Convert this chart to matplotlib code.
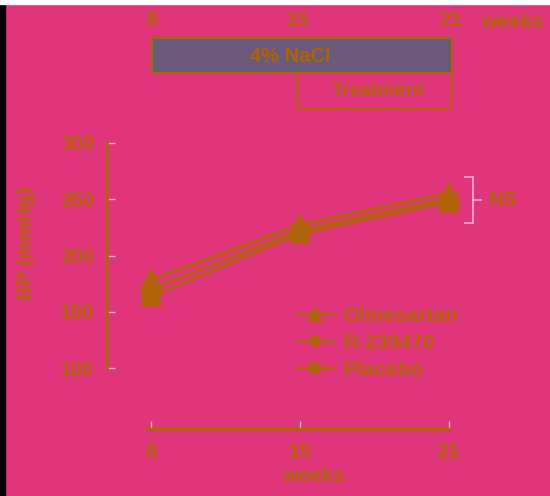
import matplotlib
matplotlib.use("Agg")
import matplotlib.pyplot as plt
from matplotlib.patches import Rectangle

# ---- data ----
weeks = ["8", "15", "21"]
olmesartan = [178, 227, 255]
r239470 = [170, 222, 250]
placebo = [163, 219, 247]
yticks = [100, 150, 200, 250, 300]

BG = "#E0357A"
FG = "#B06208"
BOX = "#685A78"
PALE = "#F2B0CC"

W, H = 550, 496
plt.rcParams['font.family'] = ['Liberation Sans', 'DejaVu Sans']
fig = plt.figure(figsize=(W / 100, H / 100), dpi=100, facecolor=BG)

# overlay axes in pixel coordinates
ov = fig.add_axes([0, 0, 1, 1], zorder=0)
ov.set_xlim(0, W)
ov.set_ylim(H, 0)
ov.axis("off")
ov.add_patch(Rectangle((0, 0), 5, H, color="black", zorder=0))
ov.add_patch(Rectangle((0, 0), W, 4, color="white", zorder=0))

# top timeline
for lbl, x in zip(weeks, [152, 298, 451]):
    ov.text(x, 21, lbl, ha="center", va="center", color=FG, fontsize=15, fontweight="bold")
ov.text(513, 22, "weeks", ha="center", va="center", color=FG, fontsize=15, fontweight="bold")
ov.add_patch(Rectangle((152, 38), 300, 35, facecolor=BOX, edgecolor=FG, lw=1.5, zorder=1))
ov.text(290, 57, "4% NaCl", ha="center", va="center", color=FG, fontsize=14.5, fontweight="bold", zorder=2)
ov.plot([298, 298, 452, 452], [73, 109, 109, 73], color=FG, lw=1.5)
ov.text(378, 91, "Treatment", ha="center", va="center", color=FG, fontsize=14, fontweight="bold")

# NS bracket
ov.plot([465, 473, 473, 465], [177, 177, 223, 223], color=PALE, lw=1.2)
ov.plot([473, 481], [200, 200], color=PALE, lw=1.2)
ov.text(489, 201, "NS", ha="left", va="center", color=FG, fontsize=15, fontweight="bold")

# y label
ov.text(27, 243, "BP (mmHg)", rotation=90, ha="center", va="center", color=FG, fontsize=15, fontweight="bold")

# main data axes
L, R, T, B = 107, 520, 143, 430
ax = fig.add_axes([L / W, 1 - B / H, (R - L) / W, (B - T) / H], zorder=1)
ax.set_facecolor("none")
x0pix, ppu = 151, 149
ax.set_xlim((L - x0pix) / ppu, (R - x0pix) / ppu)
ypp = 225 / 200
ax.set_ylim(100 - (B - 368) / ypp, 300)

xs = list(range(len(weeks)))
ax.plot(xs, olmesartan, color=FG, lw=2, marker="^", ms=16, mec=FG, label="Olmesartan", zorder=5)
ax.plot(xs, r239470, color=FG, lw=2, marker="o", ms=12, mec=FG, label="R-239470", zorder=4)
ax.plot(xs, placebo, color=FG, lw=2, marker="s", ms=13, mec=FG, label="Placebo", zorder=3)

for s in ["top", "right"]:
    ax.spines[s].set_visible(False)
ax.spines["left"].set_bounds(100, 300)
ax.spines["left"].set_color(FG)
ax.spines["left"].set_linewidth(2)
ax.spines["bottom"].set_bounds(-0.02, 2.0)
ax.spines["bottom"].set_color(FG)
ax.spines["bottom"].set_linewidth(2.5)
ax.spines["bottom"].set_position(("data", 100 - (429 - 368) / ypp))

ax.set_yticks(yticks)
ax.set_yticklabels([str(v) for v in yticks])
ax.set_xticks(xs)
ax.set_xticklabels(weeks)
ax.tick_params(axis="y", direction="in", length=6, width=1, color=PALE, pad=9,
               labelcolor=FG, labelsize=14.5)
ax.tick_params(axis="x", direction="in", length=6, width=1, color=PALE, pad=10,
               labelcolor=FG, labelsize=15)
for t in ax.get_xticklabels() + ax.get_yticklabels():
    t.set_fontweight("bold")
ax.set_xlabel("weeks", color=FG, fontsize=15, fontweight="bold", labelpad=4)

leg = ax.legend(loc="upper left", bbox_to_anchor=((279 - L) / (R - L), 1 - (288 - T) / (B - T)),
                frameon=False, handlelength=1.7, handletextpad=0.5, labelspacing=0.38,
                prop={"size": 15, "weight": "bold"}, labelcolor=FG, markerscale=0.6)

fig.savefig("out.png", dpi=100, facecolor=BG)
